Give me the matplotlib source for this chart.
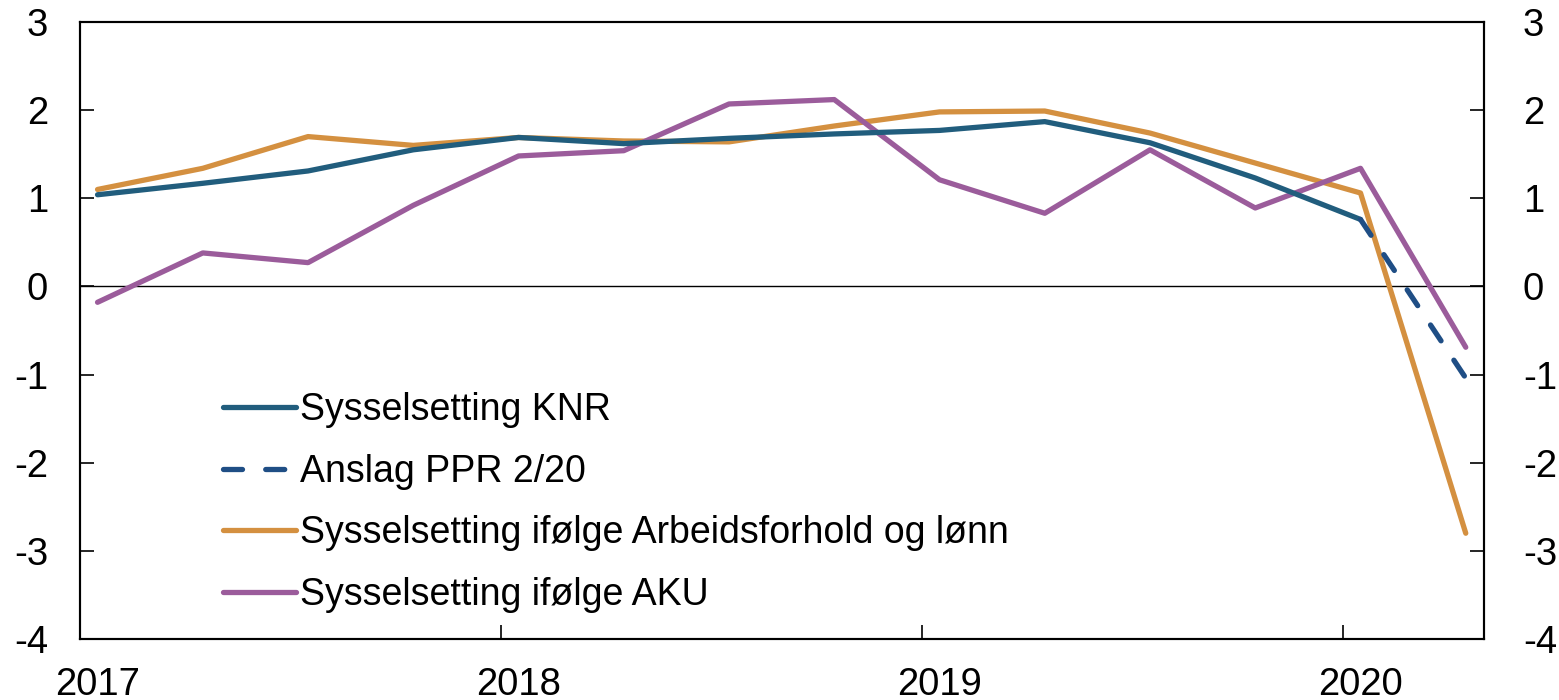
import matplotlib
matplotlib.use("Agg")
import matplotlib.pyplot as plt
import numpy as np

plt.rcParams['font.family'] = ['Liberation Sans', 'DejaVu Sans']

# Quarterly observations (x as fractional year, mid-month of quarter start)
years = [2017, 2017, 2017, 2017, 2018, 2018, 2018, 2018,
         2019, 2019, 2019, 2019, 2020, 2020]
quarters = [1, 2, 3, 4, 1, 2, 3, 4, 1, 2, 3, 4, 1, 2]

knr = [1.04, 1.17, 1.31, 1.55, 1.69, 1.62, 1.68, 1.73, 1.77, 1.87, 1.63, 1.23, 0.76]
ppr = [0.76, -1.04]
arbeid = [1.10, 1.34, 1.70, 1.60, 1.69, 1.65, 1.64, 1.82, 1.98, 1.99, 1.74, 1.40, 1.06, -2.80]
aku = [-0.18, 0.38, 0.27, 0.92, 1.48, 1.54, 2.07, 2.12, 1.21, 0.83, 1.55, 0.89, 1.34, -0.69]

labels = ["Sysselsetting KNR", "Anslag PPR 2/20",
          "Sysselsetting ifølge Arbeidsforhold og lønn", "Sysselsetting ifølge AKU"]
year_labels = ["2017", "2018", "2019", "2020"]
yticks = [3, 2, 1, 0, -1, -2, -3, -4]

c_knr = "#215d7d"
c_ppr = "#1f4e85"
c_arb = "#d49040"
c_aku = "#9b5c9b"

x = np.array([y + ((q - 1) * 3 + 0.5) / 12 for y, q in zip(years, quarters)])

fig = plt.figure(figsize=(15.59, 7.0), dpi=100)
ax = fig.add_axes([80 / 1559, 1 - 639 / 700, (1484 - 80) / 1559, (639 - 22) / 700])

lw = 3.8
ax.axhline(0, color="black", lw=1.0, zorder=1)
l1, = ax.plot(x[:len(knr)], knr, color=c_knr, lw=lw, solid_capstyle="round", zorder=3)
l2, = ax.plot(x[len(knr) - 1:len(knr) + 1], ppr, color=c_ppr, lw=lw, dashes=(3.6, 4.4),
              dash_capstyle="round", zorder=3)
l3, = ax.plot(x, arbeid, color=c_arb, lw=lw, solid_capstyle="round", zorder=2)
l4, = ax.plot(x, aku, color=c_aku, lw=lw, solid_capstyle="round", zorder=2)

ax.set_xlim(2017.0, 2020.335)
ax.set_ylim(-4, 3)

# major ticks at year boundaries (no labels), labels at first-quarter positions
ax.set_xticks([2018, 2019, 2020])
ax.set_xticklabels([])
ax.set_xticks([int(l) + 0.0417 for l in year_labels], minor=True)
ax.set_xticklabels(year_labels, minor=True)
ax.tick_params(axis="x", which="major", direction="in", length=10, width=1.2)
ax.tick_params(axis="x", which="minor", length=0, labelsize=27.5, pad=20)

ax.set_yticks(yticks)
ax.set_yticklabels([str(v) for v in yticks])
ax.tick_params(axis="y", which="major", direction="in", length=10, width=1.2,
               labelsize=27.5, pad=23)

ax2 = ax.twinx()
ax2.set_ylim(-4, 3)
ax2.set_yticks(yticks)
ax2.set_yticklabels([str(v) for v in yticks])
ax2.tick_params(axis="y", which="major", direction="in", length=10, width=1.2,
                labelsize=27.5, pad=28)

for a in (ax, ax2):
    for s in a.spines.values():
        s.set_linewidth(1.5)

leg = ax.legend([l1, l2, l3, l4], labels, loc="upper left",
                bbox_to_anchor=(0.091, 0.424), frameon=False, fontsize=27,
                handlelength=1.95, handletextpad=0.12, labelspacing=0.68,
                borderaxespad=0)

fig.savefig("out.png", dpi=100)
